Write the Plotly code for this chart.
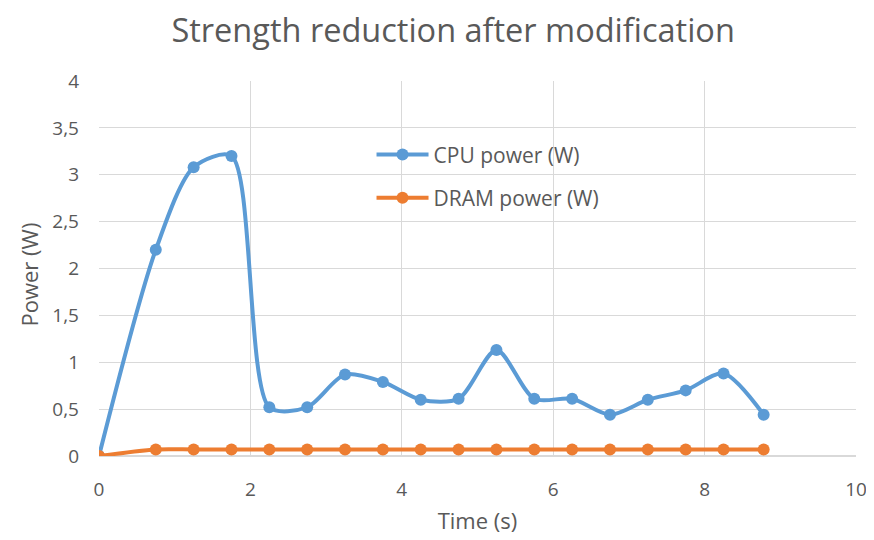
import plotly.graph_objects as go

time_s = [0, 0.75, 1.25, 1.75, 2.25, 2.75, 3.25, 3.75, 4.25, 4.75, 5.25, 5.75, 6.25, 6.75, 7.25, 7.75, 8.25, 8.78]
cpu_power = [0, 2.2, 3.08, 3.2, 0.52, 0.52, 0.87, 0.79, 0.6, 0.61, 1.13, 0.61, 0.61, 0.44, 0.6, 0.7, 0.88, 0.44]
dram_power = [0, 0.07, 0.07, 0.07, 0.07, 0.07, 0.07, 0.07, 0.07, 0.07, 0.07, 0.07, 0.07, 0.07, 0.07, 0.07, 0.07, 0.07]

font = "Open Sans, Noto Sans, sans-serif"
grey = "#595959"
fig = go.Figure()
fig.add_trace(go.Scatter(x=time_s, y=cpu_power, name="CPU power (W)", mode="lines+markers",
                         legendgroup="cpu",
                         line=dict(color="#5B9BD5", width=4, shape="spline", smoothing=0.8),
                         marker=dict(size=12, color="#5B9BD5")))
fig.add_trace(go.Scatter(x=time_s, y=dram_power, name="DRAM power (W)", mode="lines+markers",
                         legendgroup="dram",
                         line=dict(color="#ED7D31", width=4, shape="spline", smoothing=0.8),
                         marker=dict(size=12, color="#ED7D31")))

# page body has an 8px margin; figure is sized to fit the remaining window
fig.update_layout(
    width=866, height=532,
    paper_bgcolor="white", plot_bgcolor="white",
    separators=", ",
    margin=dict(l=91, r=18, t=73, b=84),
    title=dict(text="Strength reduction after modification", x=0.514, xanchor="center", y=0.958, yanchor="middle",
               font=dict(family=font, size=32.5, color=grey)),
    font=dict(family=font, color=grey, size=20),
    legend=dict(x=0.36, y=0.858, xanchor="left", yanchor="top", bgcolor="rgba(0,0,0,0)",
                font=dict(size=21, color=grey), tracegroupgap=13, itemwidth=52),
    showlegend=True,
    annotations=[dict(text="Power (W)", xref="paper", yref="paper", x=0, y=0.5, xanchor="center",
                      yanchor="middle", xshift=-71, yshift=-6, textangle=-90, showarrow=False,
                      font=dict(family=font, size=22, color=grey))],
)
fig.update_xaxes(range=[0, 10], dtick=2, tick0=0, showgrid=True, gridcolor="#D9D9D9", gridwidth=1,
                 zeroline=False, showline=False, ticks="", ticklabelstandoff=20, automargin=False,
                 title=dict(text="Time (s)", font=dict(size=22, color=grey), standoff=12),
                 tickfont=dict(size=19, color=grey))
fig.update_yaxes(range=[0, 4], dtick=0.5, tick0=0, showgrid=True, gridcolor="#D9D9D9", gridwidth=1,
                 zeroline=True, zerolinecolor="#D9D9D9", showline=False, ticks="", automargin=False,
                 ticklabelstandoff=19,
                 tickfont=dict(size=19, color=grey))

fig.write_html("out.html")
